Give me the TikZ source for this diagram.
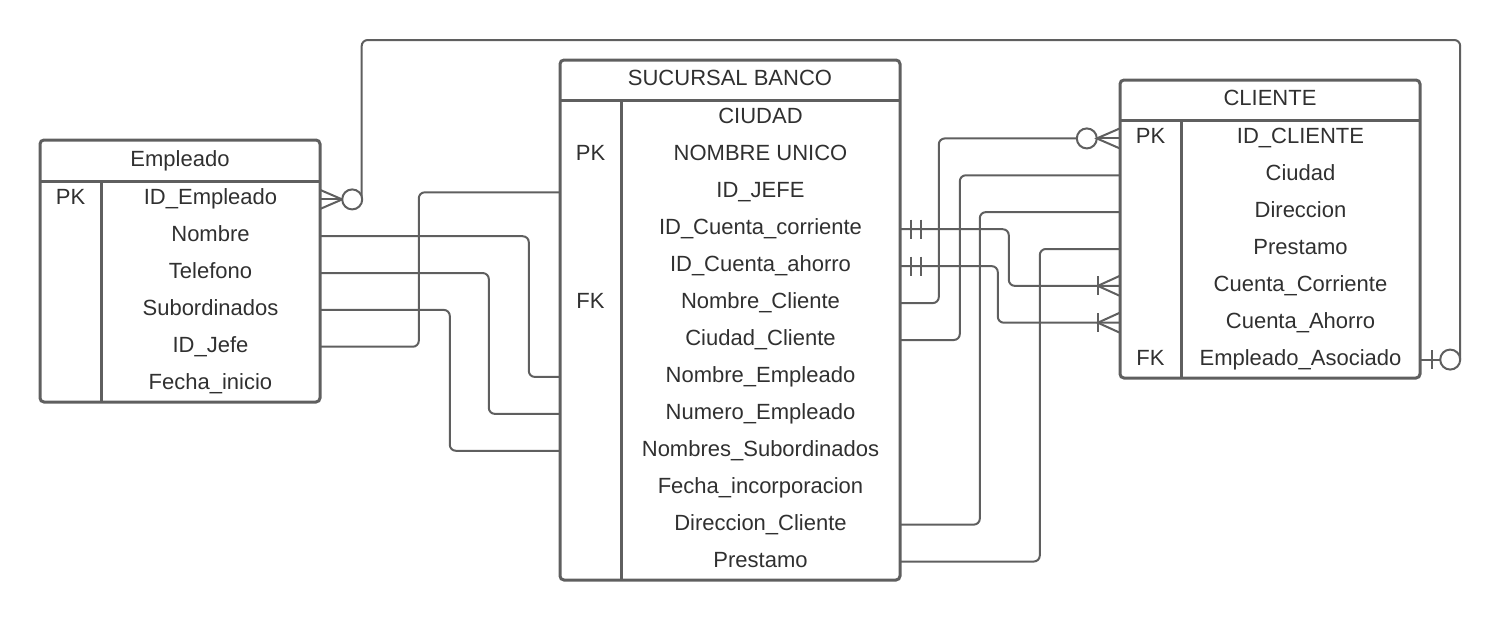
\documentclass[tikz,border=0pt]{standalone}
\usepackage{fontspec}
\setmainfont{Liberation Sans}
\definecolor{ln}{HTML}{5F5F5F}
\definecolor{tx}{HTML}{303030}
\begin{document}
\begin{tikzpicture}[x=1pt,y=-1pt,
  cell/.style={inner sep=0pt, minimum height=36pt, text height=16pt, text depth=5pt, font=\fontsize{22}{26}\selectfont, text=tx},
  namecell/.style={cell, minimum width=#1},
  frame/.style={draw=ln, line width=3pt, rounded corners=4pt},
  rule/.style={draw=ln, line width=3pt},
  conn/.style={draw=ln, line width=2pt, rounded corners=6pt},
  endmark/.style={draw=ln, line width=2pt}]
\useasboundingbox (0,0) rectangle (1502,621);

% ---------- Empleado ----------
\foreach \t [count=\i] in {ID\_Empleado,Nombre,Telefono,Subordinados,ID\_Jefe,Fecha\_inicio}
  \node[namecell=219pt] (e\i) at (210.5,{181+36.83*(\i-0.5)}) {\t};
\foreach \k [count=\i] in {PK,{},{},{},{},{}}
  \node[namecell=61pt] (ek\i) at (70.5,{181+36.83*(\i-0.5)}) {\k};
\node[cell] (eh) at (180,160.5) {Empleado};

% ---------- Sucursal Banco ----------
\foreach \t [count=\i] in {CIUDAD,NOMBRE UNICO,ID\_JEFE,ID\_Cuenta\_corriente,ID\_Cuenta\_ahorro,Nombre\_Cliente,Ciudad\_Cliente,Nombre\_Empleado,Numero\_Empleado,Nombres\_Subordinados,Fecha\_incorporacion,Direccion\_Cliente,Prestamo}
  \node[namecell=279pt] (s\i) at (760.5,{100+36.923*(\i-0.5)}) {\t};
\foreach \k [count=\i] in {{},PK,{},{},{},FK,{},{},{},{},{},{},{}}
  \node[namecell=61pt] (sk\i) at (590.5,{100+36.923*(\i-0.5)}) {\k};
\node[cell] (sh) at (730,80) {SUCURSAL BANCO};

% ---------- Cliente ----------
\foreach \t [count=\i] in {ID\_CLIENTE,Ciudad,Direccion,Prestamo,Cuenta\_Corriente,Cuenta\_Ahorro,Empleado\_Asociado}
  \node[namecell=239pt] (c\i) at (1300.5,{120+36.857*(\i-0.5)}) {\t};
\foreach \k [count=\i] in {PK,{},{},{},{},{},FK}
  \node[namecell=61pt] (ck\i) at (1150.5,{120+36.857*(\i-0.5)}) {\k};
\node[cell] (ch) at (1270,100) {CLIENTE};

% ---------- connectors Empleado -> Sucursal ----------
\draw[conn] (e2.east) -| ([xshift=-31pt]sk8.west) -- (sk8.west);
\draw[conn] (e3.east) -| ([xshift=-71pt]sk9.west) -- (sk9.west);
\draw[conn] (e4.east) -| ([xshift=-110pt]sk10.west) -- (sk10.west);
\draw[conn] (e5.east) -| ([xshift=-141pt]sk3.west) -- (sk3.west);

% ---------- connectors Sucursal -> Cliente ----------
\draw[conn] (s6.east) -| ([xshift=-181pt]ck1.west) -- ([xshift=-43pt]ck1.west);
\draw[conn] (s7.east) -| ([xshift=-160pt]ck2.west) -- (ck2.west);
\draw[conn] (s12.east) -| ([xshift=-140pt]ck3.west) -- (ck3.west);
\draw[conn] (s13.east) -| ([xshift=-80pt]ck4.west) -- (ck4.west);
\draw[conn] (s4.east) -| ([xshift=-111pt]ck5.west) -- (ck5.west);
\draw[conn] (s5.east) -| ([xshift=-122pt]ck6.west) -- (ck6.west);

% ---------- self relation Empleado -> Cliente ----------
\coordinate (topline) at (0,40);
\coordinate (selfA) at ([xshift=41.5pt]e1.east);
\coordinate (selfB) at ([xshift=40pt]c7.east);
\draw[conn] (selfA) -- (selfA |- topline) -| (selfB);
\draw[endmark] (e1.east) -- ([xshift=22pt]e1.east);
\draw[endmark] ([yshift=9.5pt]e1.east) -- ([xshift=22pt]e1.east) -- ([yshift=-9.5pt]e1.east);
\draw[endmark, fill=white] ([xshift=32pt]e1.east) circle[radius=10pt];
\draw[endmark] (c7.east) -- ([xshift=20pt]c7.east);
\draw[endmark] ([xshift=12pt,yshift=9.5pt]c7.east) -- ([xshift=12pt,yshift=-9.5pt]c7.east);
\draw[endmark, fill=white] ([xshift=30pt]c7.east) circle[radius=10pt];

% ---------- end markers on right ----------
\draw[endmark, fill=white] ([xshift=-33pt]ck1.west) circle[radius=10pt];
\draw[endmark] ([xshift=-23pt]ck1.west) -- (ck1.west);
\draw[endmark] ([yshift=10pt]ck1.west) -- ([xshift=-23pt]ck1.west) -- ([yshift=-10pt]ck1.west);
\foreach \n in {ck5,ck6}{
  \draw[endmark] ([yshift=10pt]\n.west) -- ([xshift=-22pt]\n.west) -- ([yshift=-10pt]\n.west);
  \draw[endmark] ([xshift=-22pt,yshift=9.5pt]\n.west) -- ([xshift=-22pt,yshift=-9.5pt]\n.west);
}
\foreach \n in {s4,s5}{
  \draw[endmark] ([xshift=11pt,yshift=9.5pt]\n.east) -- ([xshift=11pt,yshift=-9.5pt]\n.east);
  \draw[endmark] ([xshift=21pt,yshift=9.5pt]\n.east) -- ([xshift=21pt,yshift=-9.5pt]\n.east);
}

% ---------- table frames ----------
\draw[frame] (40,140) rectangle (320,402);
\draw[rule] (40,181) -- (320,181);
\draw[rule] (101,181) -- (101,402);

\draw[frame] (560,60) rectangle (900,580);
\draw[rule] (560,100) -- (900,100);
\draw[rule] (621,100) -- (621,580);

\draw[frame] (1120,80) rectangle (1420,378);
\draw[rule] (1120,120) -- (1420,120);
\draw[rule] (1181,120) -- (1181,378);
\end{tikzpicture}
\end{document}
